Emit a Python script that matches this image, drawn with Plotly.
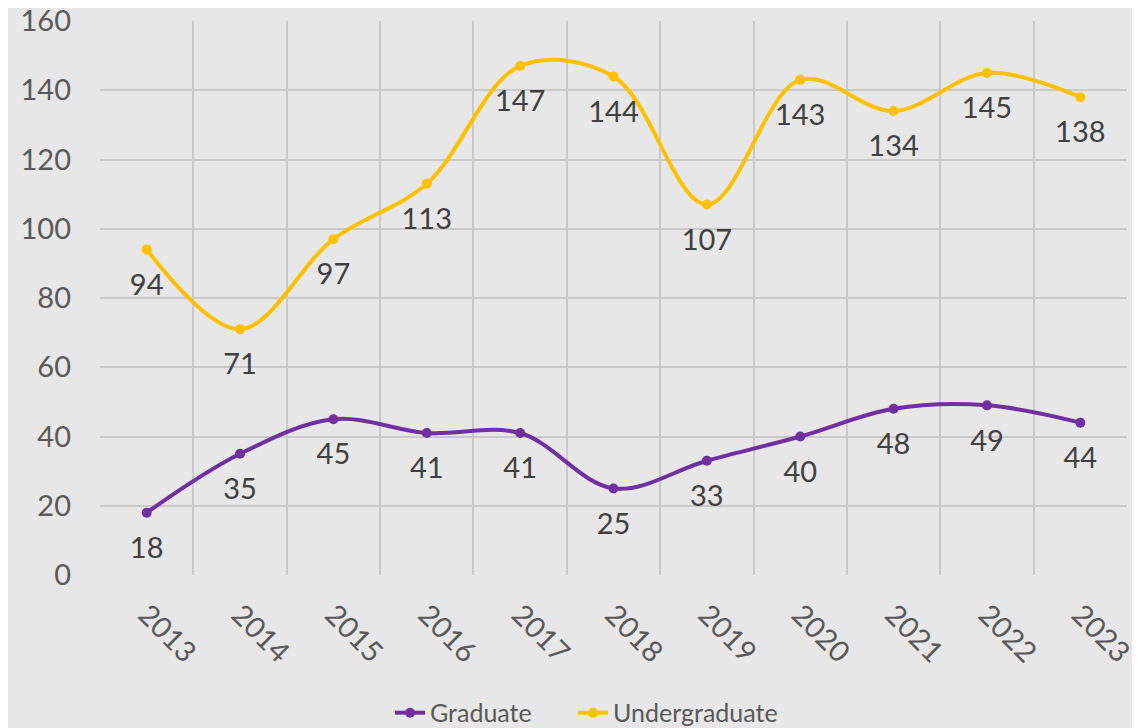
import plotly.graph_objects as go

years = ["2013", "2014", "2015", "2016", "2017", "2018", "2019", "2020", "2021", "2022", "2023"]
graduate = [18, 35, 45, 41, 41, 25, 33, 40, 48, 49, 44]
undergraduate = [94, 71, 97, 113, 147, 144, 107, 143, 134, 145, 138]

FONT = "Lato, Roboto, sans-serif"
TXT = "#404040"
AX = "#595959"
BG = "#e7e7e7"
GRID = "#c9c9c9"

fig = go.Figure()
for name, vals, col, lg in (("Graduate", graduate, "#7030A0", "legend"),
                            ("Undergraduate", undergraduate, "#FFC000", "legend2")):
    fig.add_trace(go.Scatter(
        x=years, y=vals, name=name, mode="lines+markers", legend=lg,
        line=dict(color=col, width=4, shape="spline", smoothing=1.0),
        marker=dict(size=10, color=col),
    ))
# data labels below points
for vals in (graduate, undergraduate):
    fig.add_trace(go.Scatter(
        x=years, y=vals, mode="markers+text", text=[str(v) for v in vals],
        textposition="bottom center", showlegend=False, hoverinfo="skip",
        marker=dict(size=36, opacity=0, color=BG),
        textfont=dict(family=FONT, size=29, color=TXT), cliponaxis=False,
    ))

leg = dict(orientation="h", xanchor="left", y=-0.249, yanchor="middle",
           font=dict(family=FONT, size=25, color=AX), bgcolor="rgba(0,0,0,0)")
fig.update_layout(
    width=1140, height=800,
    paper_bgcolor=BG, plot_bgcolor=BG,
    margin=dict(l=92, r=21, t=13, b=233),
    font=dict(family=FONT, color=TXT),
    showlegend=True,
    legend=dict(leg, x=0.2824),
    legend2=dict(leg, x=0.4606),
)
fig.update_xaxes(
    type="category", tickson="boundaries", showgrid=True, gridcolor=GRID, gridwidth=1.5,
    tickangle=45, tickfont=dict(family=FONT, size=29, color=AX), automargin=False,
    showline=False, zeroline=False, ticks="", range=[-0.5, 10.5], ticklabelstandoff=16,
)
fig.update_yaxes(
    range=[0, 160], dtick=20, showgrid=True, gridcolor=GRID, gridwidth=1.5,
    tickfont=dict(family=FONT, size=29, color=AX), zeroline=False, automargin=False,
    showline=False, ticklabelstandoff=28, ticklabeloverflow="allow",
)
fig.write_html("out.html")
